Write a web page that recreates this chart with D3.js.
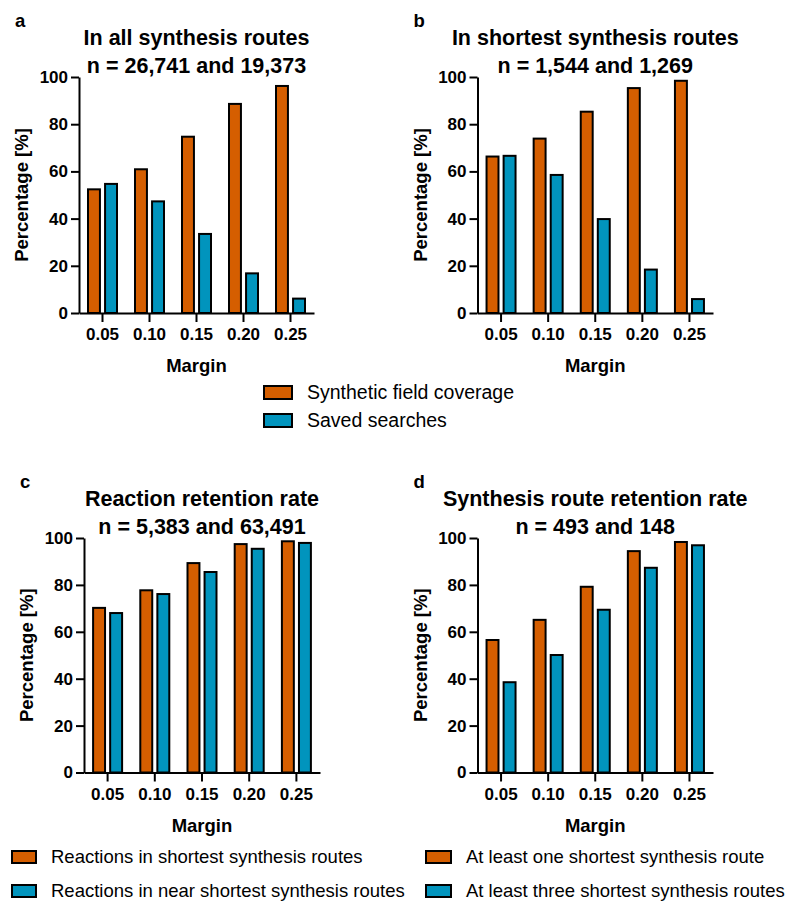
<!DOCTYPE html>
<html>
<head>
<meta charset="utf-8">
<script src="https://cdn.jsdelivr.net/npm/d3@7"></script>
<style>
  body { margin: 0; background: #fff; }
  svg { display: block; font-family: "Liberation Sans", Arial, Helvetica, sans-serif; }
  .axis path, .axis line { stroke: #000; stroke-width: 2; }
  .axis text { font-family: "Liberation Sans", Arial, Helvetica, sans-serif; font-size: 17px; font-weight: bold; fill: #000; }
</style>
</head>
<body>
<svg id="chart" width="790" height="901"></svg>
<script>
(function() {

// margins on the x axis
const margins = ["0.05", "0.10", "0.15", "0.20", "0.25"];
const yTicks = [0, 20, 40, 60, 80, 100];

// a: in all synthesis routes
const allCoverage = [52.4, 60.9, 74.7, 88.6, 96.2];
const allSaved = [54.7, 47.3, 33.5, 16.8, 6.1];
// b: in shortest synthesis routes
const shortCoverage = [66.3, 73.9, 85.3, 95.3, 98.4];
const shortSaved = [66.6, 58.5, 39.8, 18.4, 5.9];
// c: reaction retention rate
const reactShortest = [70.2, 77.7, 89.3, 97.4, 98.6];
const reactNear = [68.0, 76.1, 85.5, 95.4, 97.9];
// d: synthesis route retention rate
const routeOne = [56.5, 65.1, 79.2, 94.4, 98.3];
const routeThree = [38.5, 50.1, 69.4, 87.3, 96.9];

const orange = "#D55E00";
const blue = "#0194BD";

const svg = d3.select("#chart");

const panels = [
    {letter: "a", title: ["In all synthesis routes", "n = 26,741 and 19,373"],
     series: [allCoverage, allSaved], left: 79, right: 314, top: 77, bottom: 313},
    {letter: "b", title: ["In shortest synthesis routes", "n = 1,544 and 1,269"],
     series: [shortCoverage, shortSaved], left: 477.5, right: 713, top: 77, bottom: 313},
    {letter: "c", title: ["Reaction retention rate", "n = 5,383 and 63,491"],
     series: [reactShortest, reactNear], left: 84, right: 320, top: 538, bottom: 772.5},
    {letter: "d", title: ["Synthesis route retention rate", "n = 493 and 148"],
     series: [routeOne, routeThree], left: 477.5, right: 713, top: 538, bottom: 772.5}
];

panels.forEach(p => {
    const g = svg.append("g");

    const x0 = d3.scaleBand().domain(margins).range([p.left, p.right]);
    const bw = x0.bandwidth();
    const x1 = d3.scaleBand().domain([0, 1])
        .range([bw / 2 - 14.5, bw / 2 + 14.5])
        .paddingInner(0.3);
    const y = d3.scaleLinear().domain([0, 100]).range([p.bottom, p.top]);

    // bars
    p.series.forEach((vals, si) => {
        g.selectAll(".bar-" + si)
            .data(vals)
            .join("rect")
            .attr("x", (d, i) => x0(margins[i]) + x1(si))
            .attr("width", x1.bandwidth())
            .attr("y", d => y(d))
            .attr("height", d => y(0) - y(d))
            .attr("fill", si === 0 ? orange : blue)
            .attr("stroke", "#000")
            .attr("stroke-width", 2);
    });

    g.append("g")
        .attr("class", "axis")
        .attr("transform", `translate(${p.left},0)`)
        .call(d3.axisLeft(y).tickValues(yTicks).tickSize(8).tickSizeOuter(0).tickPadding(3));

    g.append("g")
        .attr("class", "axis")
        .attr("transform", `translate(0,${p.bottom})`)
        .call(d3.axisBottom(x0).tickSize(9).tickSizeOuter(0).tickPadding(6));

    const cx = (p.left + p.right) / 2;

    // title, two lines
    p.title.forEach((t, i) => {
        g.append("text")
            .attr("x", cx)
            .attr("y", p.top - 32 + i * 27.5)
            .attr("text-anchor", "middle")
            .attr("font-size", "21.5px")
            .attr("font-weight", "bold")
            .text(t);
    });

    g.append("text")
        .attr("x", p.left - 64)
        .attr("y", p.top - 50)
        .attr("font-size", "18.5px")
        .attr("font-weight", "bold")
        .text(p.letter);

    g.append("text")
        .attr("transform", `translate(${p.left - 51},${(p.top + p.bottom) / 2}) rotate(-90)`)
        .attr("text-anchor", "middle")
        .attr("font-size", "18.5px")
        .attr("font-weight", "bold")
        .text("Percentage [%]");

    g.append("text")
        .attr("x", cx)
        .attr("y", p.bottom + 59)
        .attr("text-anchor", "middle")
        .attr("font-size", "18.5px")
        .attr("font-weight", "bold")
        .text("Margin");
});

// legends
function legendItem(x, y, w, h, color, label, size) {
    svg.append("rect")
        .attr("x", x).attr("y", y)
        .attr("width", w).attr("height", h)
        .attr("fill", color)
        .attr("stroke", "#000")
        .attr("stroke-width", 2);
    svg.append("text")
        .attr("x", x + w + 15)
        .attr("y", y + h / 2)
        .attr("dy", "0.35em")
        .attr("font-size", size)
        .text(label);
}

legendItem(264, 386, 28, 13, orange, "Synthetic field coverage", "19.5px");
legendItem(264, 414, 28, 13, blue, "Saved searches", "19.5px");

legendItem(12, 851, 24, 12, orange, "Reactions in shortest synthesis routes", "18.5px");
legendItem(12, 885, 24, 12, blue, "Reactions in near shortest synthesis routes", "18.5px");
legendItem(426, 851, 25, 12, orange, "At least one shortest synthesis route", "18.5px");
legendItem(426, 885, 25, 12, blue, "At least three shortest synthesis routes", "18.5px");

})();
</script>
</body>
</html>
